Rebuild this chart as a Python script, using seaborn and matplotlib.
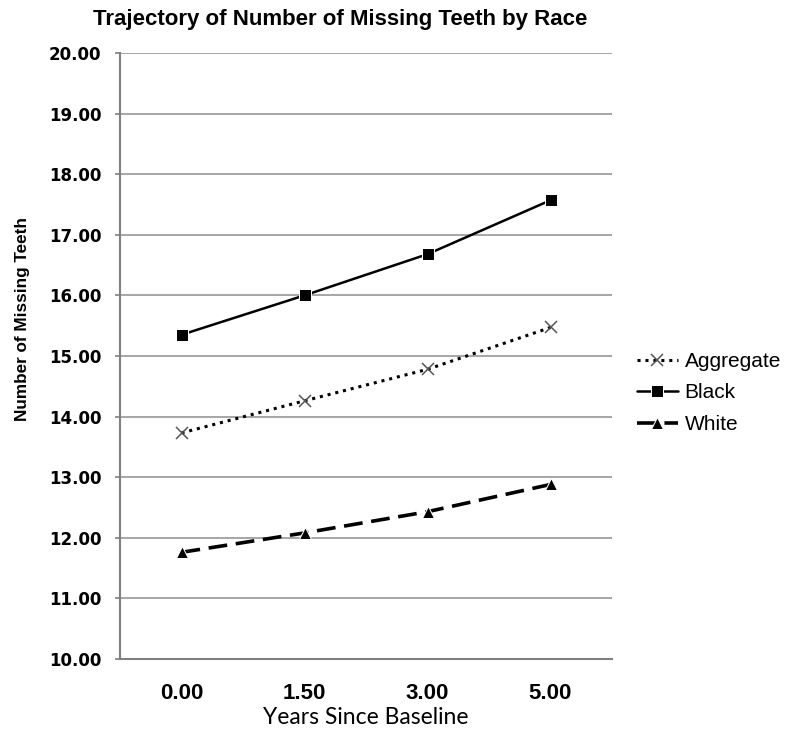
import pandas as pd
import seaborn as sns
import matplotlib.pyplot as plt

# data
years = ["0.00", "1.50", "3.00", "5.00"]
aggregate = [13.73, 14.26, 14.78, 15.47]
black = [15.35, 16.00, 16.68, 17.57]
white = [11.76, 12.08, 12.43, 12.88]
groups = ["Aggregate", "Black", "White"]

df = pd.DataFrame({
    "Years": years * 3,
    "Teeth": aggregate + black + white,
    "Group": [g for g in groups for _ in years],
})

sns.set_theme(style="white")
plt.rcParams['font.family'] = ['Liberation Sans', 'DejaVu Sans']
plt.rcParams['text.color'] = 'black'
plt.rcParams['axes.labelcolor'] = 'black'
plt.rcParams['xtick.color'] = 'black'
plt.rcParams['ytick.color'] = 'black'

fig, ax = plt.subplots(figsize=(8, 7.42), dpi=100)
fig.subplots_adjust(left=0.15, right=0.765, top=0.9286, bottom=0.1119)

# line styles per group
styles = {
    "Aggregate": dict(color="black", linewidth=2.2, dashes=(1, 1.6), marker="x",
                      markersize=8, markeredgecolor="#555555", markeredgewidth=1.1),
    "Black": dict(color="black", linewidth=1.8, marker="s", markersize=8),
    "White": dict(color="black", linewidth=2.6, dashes=(5.2, 2.4), marker="^",
                  markersize=9),
}

for g in groups:
    sub = df[df["Group"] == g]
    sns.lineplot(data=sub, x="Years", y="Teeth", ax=ax, label=g, **styles[g])

ax.set_ylim(10, 20)
ax.set_xlim(-0.5, 3.5)
ax.set_yticks(range(10, 21))
ax.set_yticklabels([f"{v:.2f}" for v in range(10, 21)],
                   fontfamily="DejaVu Sans", fontweight="bold", fontsize=12)
ax.set_xticks(range(len(years)))
ax.set_xticklabels(years, fontfamily="Liberation Sans", fontweight="bold", fontsize=16)

ax.yaxis.grid(True, color="#a6a6a6", linewidth=1.4)
ax.xaxis.grid(False)
ax.set_axisbelow(True)
for s in ["top", "right"]:
    ax.spines[s].set_visible(False)
for s in ["left", "bottom"]:
    ax.spines[s].set_color("#808080")
    ax.spines[s].set_linewidth(1.5)

ax.tick_params(axis="x", length=0, pad=17)
ax.tick_params(axis="y", left=True, length=3.5, color="#808080", width=1.2, pad=10)

ax.set_xlabel("Years Since Baseline", fontfamily=["Lato", "DejaVu Sans"], fontsize=16.5)
ax.xaxis.set_label_coords(0.5, -0.08)
ax.set_ylabel("Number of Missing Teeth", fontfamily="Liberation Sans",
              fontweight="bold", fontsize=12.3)
ax.yaxis.set_label_coords(-0.183, 0.561)

fig.text(0.425, 0.974, "Trajectory of Number of Missing Teeth by Race",
         fontfamily="Liberation Sans", fontweight="bold",
         fontsize=16, ha="center", va="center")

ax.legend(loc="center left", bbox_to_anchor=(1.05, 0.439), frameon=False,
          fontsize=15, handlelength=2.0, handletextpad=0.3, labelspacing=0.6,
          borderpad=0, borderaxespad=0)

fig.savefig("out.png", dpi=100)
